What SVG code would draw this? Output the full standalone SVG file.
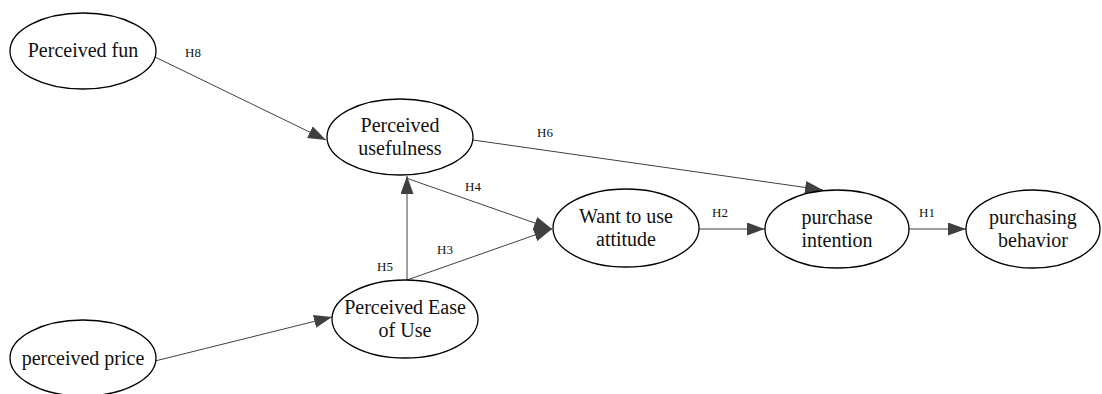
<svg xmlns="http://www.w3.org/2000/svg" width="1102" height="394" viewBox="0 0 1102 394">
<style>
.node ellipse{fill:#fff;stroke:#000;stroke-width:1.3}
.node text{font-family:"Liberation Serif","Times New Roman",serif;font-size:20px;fill:#111;text-anchor:middle}
.edge line{stroke:#404040;stroke-width:1;marker-end:url(#arr)}
.lbl{font-family:"Liberation Serif","Times New Roman",serif;font-size:13px;fill:#111;text-anchor:middle}
</style>
<defs>
<marker id="arr" markerUnits="userSpaceOnUse" markerWidth="18" markerHeight="13" refX="18" refY="6.5" orient="auto" viewBox="0 0 18 13">
<path d="M0,0 L18,6.5 L0,13 z" fill="#404040"/>
</marker>
</defs>
<rect width="1102" height="394" fill="#fff"/>
<g id="connectors" class="edge">
<line x1="155" y1="57" x2="326" y2="140"/>
<line x1="473" y1="140" x2="823" y2="190"/>
<line x1="406" y1="178" x2="552" y2="229"/>
<line x1="407" y1="280" x2="407" y2="176"/>
<line x1="407" y1="280" x2="552" y2="229"/>
<line x1="155" y1="361" x2="332" y2="317"/>
<line x1="698" y1="229" x2="765" y2="229"/>
<line x1="909" y1="229" x2="966" y2="229"/>
<text class="lbl" x="193" y="57">H8</text>
<text class="lbl" x="545" y="137">H6</text>
<text class="lbl" x="473" y="191">H4</text>
<text class="lbl" x="385" y="271">H5</text>
<text class="lbl" x="445" y="254">H3</text>
<text class="lbl" x="720" y="217">H2</text>
<text class="lbl" x="927" y="217">H1</text>
</g>
<g id="perceived-fun" class="node">
<ellipse cx="83" cy="51" rx="73" ry="38"/>
<text x="83" y="57">Perceived fun</text>
</g>
<g id="perceived-price" class="node">
<ellipse cx="83" cy="358" rx="73" ry="38"/>
<text x="83" y="365">perceived price</text>
</g>
<g id="perceived-usefulness" class="node">
<ellipse cx="400" cy="137" rx="73" ry="38"/>
<text x="400" y="132">Perceived</text>
<text x="400" y="155">usefulness</text>
</g>
<g id="perceived-ease" class="node">
<ellipse cx="405" cy="319" rx="73" ry="39"/>
<text x="405" y="314">Perceived Ease</text>
<text x="405" y="337">of Use</text>
</g>
<g id="want-to-use" class="node">
<ellipse cx="626" cy="228" rx="73" ry="39"/>
<text x="626" y="223">Want to use</text>
<text x="626" y="246">attitude</text>
</g>
<g id="purchase-intention" class="node">
<ellipse cx="837" cy="229" rx="72" ry="39"/>
<text x="837" y="224">purchase</text>
<text x="837" y="247">intention</text>
</g>
<g id="purchasing-behavior" class="node">
<ellipse cx="1033" cy="229" rx="67" ry="39"/>
<text x="1033" y="224">purchasing</text>
<text x="1033" y="247">behavior</text>
</g>
</svg>
